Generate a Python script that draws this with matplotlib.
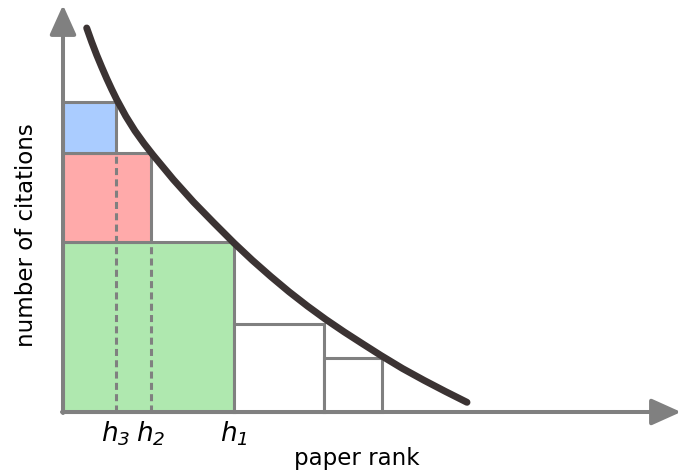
import matplotlib.pyplot as plt
import numpy as np

# italic digits in the subscripts too
plt.rcParams['mathtext.fontset'] = 'custom'
plt.rcParams['mathtext.rm'] = 'DejaVu Sans:italic'
plt.rcParams['mathtext.it'] = 'DejaVu Sans:italic'

# h values (paper rank units), h1 > h2 > h3
h_labels = ['$h_1$', '$h_2$', '$h_3$']
h_vals = [17.1, 8.8, 5.3]
h_heights = [17.0, 8.9, 5.1]
h_colors = ['#afe8af', '#ffaaaa', '#aaccff']

# the two open squares after h1
tail_left = [17.1, 26.1]
tail_width = [9.0, 5.8]
tail_height = [8.8, 5.4]

# citation curve
curve_x = [2.37, 2.87, 3.37, 3.87, 4.37, 4.87, 5.37, 6.28, 7.19, 8.1, 9.0, 11.03,
           13.05, 15.08, 17.1, 18.94, 20.78, 22.61, 24.45, 26.29, 28.13, 29.96,
           31.8, 33.95, 36.1, 38.25, 40.4]
curve_y = [38.4, 37.0, 35.7, 34.5, 33.35, 32.27, 31.25, 29.58, 28.12, 26.85, 25.7,
           23.25, 21.0, 18.92, 16.9, 15.17, 13.55, 12.02, 10.59, 9.25, 8.0, 6.82,
           5.65, 4.35, 3.17, 2.05, 0.97]

gray = '#808080'

fig = plt.figure(figsize=(6.82, 4.73), dpi=100)
ax = fig.add_axes([0, 0, 1, 1])
ax.set_xlim(-6.3, 61.9)
ax.set_ylim(-6.1, 41.2)
ax.axis('off')

# stacked h squares
bottoms = np.concatenate([[0], np.cumsum(h_heights)[:-1]])
ax.bar(0, h_heights, width=h_vals, bottom=bottoms, align='edge',
       color=h_colors, edgecolor=gray, linewidth=2.2, zorder=2)
ax.bar(tail_left, tail_height, width=tail_width, bottom=0, align='edge',
       color='white', edgecolor=gray, linewidth=2.2, zorder=2)

# dotted guides for h2 and h3
ax.vlines(h_vals[2], 0, bottoms[2], colors=gray, linewidth=2.2,
          linestyles=(0, (2.3, 1.4)), zorder=3)
ax.vlines(h_vals[1], 0, bottoms[1], colors=gray, linewidth=2.2,
          linestyles=(0, (2.3, 1.4)), zorder=3)

# axes with arrows
arrow = dict(arrowstyle='-|>,head_length=1.0,head_width=0.45', color=gray,
             lw=2.9, mutation_scale=18, shrinkA=0, shrinkB=0)
ax.annotate('', xy=(61.8, 0), xytext=(-0.1, 0), arrowprops=arrow, zorder=4)
ax.annotate('', xy=(0, 40.7), xytext=(0, -0.1), arrowprops=arrow, zorder=4)

ax.plot(curve_x, curve_y, color='#3b3333', lw=5, solid_capstyle='round',
        solid_joinstyle='round', zorder=5)

for lab, xv in zip(h_labels, h_vals):
    ax.text(xv, -2.2, lab, fontsize=19, ha='center', va='center')

ax.text(29.35, -4.6, 'paper rank', fontsize=16.5, ha='center', va='center')
ax.text(-3.6, 17.7, 'number of citations', fontsize=16.5, ha='center',
        va='center', rotation=90)

fig.savefig('out.png', dpi=100)
